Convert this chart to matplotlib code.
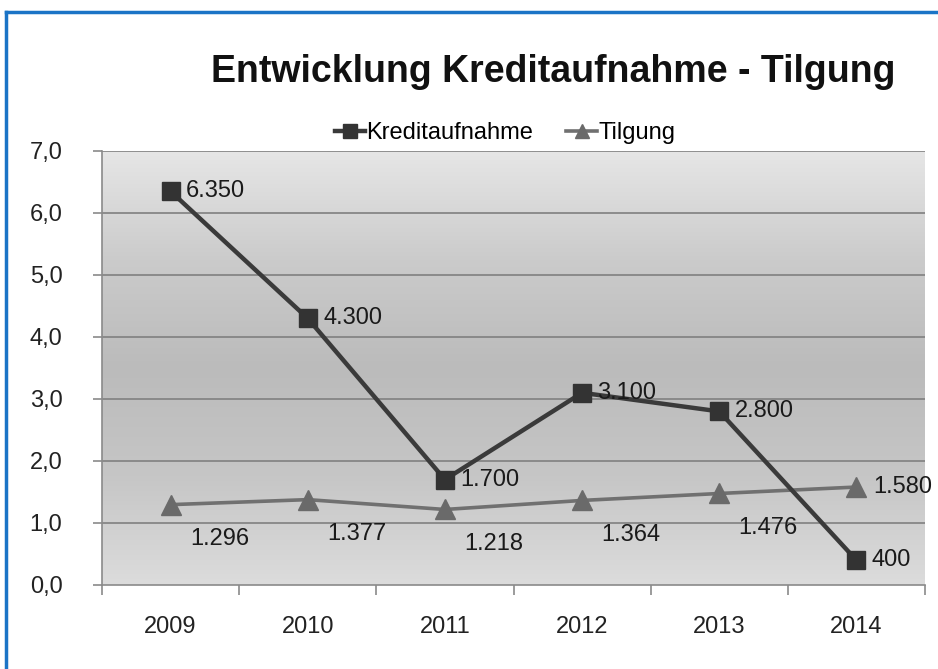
import numpy as np
import matplotlib
matplotlib.use("Agg")
import matplotlib.pyplot as plt
from matplotlib.colors import LinearSegmentedColormap
from matplotlib.lines import Line2D

# --- Data ---
years = ["2009", "2010", "2011", "2012", "2013", "2014"]
kredit = [6.350, 4.300, 1.700, 3.100, 2.800, 0.400]
tilgung = [1.296, 1.377, 1.218, 1.364, 1.476, 1.580]
kredit_labels = ["6.350", "4.300", "1.700", "3.100", "2.800", "400"]
tilgung_labels = ["1.296", "1.377", "1.218", "1.364", "1.476", "1.580"]
y_ticks = [0, 1, 2, 3, 4, 5, 6, 7]
y_tick_labels = ["0,0", "1,0", "2,0", "3,0", "4,0", "5,0", "6,0", "7,0"]

plt.rcParams['font.family'] = ['Liberation Sans', 'DejaVu Sans']

W, H = 938, 669
fig = plt.figure(figsize=(W / 100, H / 100), dpi=100, facecolor='white')
ax = fig.add_axes([102 / W, 1 - 585 / H, 823 / W, 434 / H])

# --- gradient background of the plot area ---
grad_cmap = LinearSegmentedColormap.from_list(
    'bg', ['#dcdcdc', '#c6c6c6', '#bbbbbb', '#cbcbcb', '#e6e6e6'])
grad = np.linspace(0, 1, 256).reshape(-1, 1)
ax.imshow(grad, extent=[0, 1, 0, 1], transform=ax.transAxes, cmap=grad_cmap,
          aspect='auto', origin='lower', zorder=0)

x = np.arange(len(years))
ax.set_xlim(-0.5, len(years) - 0.5)
ax.set_ylim(0, 7)

for yv in y_ticks[1:]:
    ax.axhline(yv, color='#808080', lw=1.2, zorder=1)

k_line, = ax.plot(x, kredit, color='#3a3a3a', lw=3.2, marker='s', ms=13,
                  mfc='#333333', mec='#333333', zorder=4, label='Kreditaufnahme')
t_line, = ax.plot(x, tilgung, color='#707070', lw=2.6, marker='^', ms=14,
                  mfc='#6a6a6a', mec='#6a6a6a', zorder=3, label='Tilgung')

for xi, yi, lab in zip(x, kredit, kredit_labels):
    ax.annotate(lab, (xi, yi), xytext=(11, 0), textcoords='offset points',
                ha='left', va='center', fontsize=17, color='#1a1a1a', zorder=5)
for i, (xi, yi, lab) in enumerate(zip(x, tilgung, tilgung_labels)):
    off = (12, 0) if i == len(x) - 1 else (14, -25)
    ax.annotate(lab, (xi, yi), xytext=off, textcoords='offset points',
                ha='left', va='center', fontsize=17, color='#1a1a1a', zorder=5)

# --- axes styling ---
for s in ['top', 'right']:
    ax.spines[s].set_visible(False)
ax.spines['left'].set_color('#8a8a8a')
ax.spines['bottom'].set_color('#8a8a8a')
ax.spines['left'].set_linewidth(1.2)
ax.spines['bottom'].set_linewidth(1.2)

ax.set_yticks(y_ticks)
ax.set_yticklabels(y_tick_labels, fontsize=17, color='#222222')
ax.tick_params(axis='y', length=6.5, width=1.2, color='#8a8a8a', pad=22)

ax.set_xticks(np.arange(-0.5, len(years), 1.0))
ax.set_xticklabels([])
ax.tick_params(axis='x', which='major', length=7, width=1.2, color='#8a8a8a')
ax.set_xticks(x, minor=True)
ax.set_xticklabels(years, minor=True, fontsize=17, color='#222222')
ax.tick_params(axis='x', which='minor', length=0, pad=22)

# --- title and legend ---
fig.text(553 / W, 1 - 72 / H, 'Entwicklung Kreditaufnahme - Tilgung',
         ha='center', va='center', fontsize=27, fontweight='bold', color='#111111')
fig.legend(handles=[k_line, t_line], loc='center', bbox_to_anchor=(505 / W, 1 - 133 / H),
           ncol=2, frameon=False, fontsize=17, handlelength=1.3, handletextpad=0.05,
           columnspacing=1.4, markerscale=0.75)

# --- blue frame ---
frame_col = '#1b74c6'
fig.add_artist(Line2D([6 / W, 1.0], [1 - 12 / H, 1 - 12 / H], transform=fig.transFigure,
                      color=frame_col, lw=2.5))
fig.add_artist(Line2D([6 / W, 6 / W], [0, 1 - 12 / H], transform=fig.transFigure,
                      color=frame_col, lw=2.5))

fig.savefig('out.png', dpi=100, facecolor='white')
